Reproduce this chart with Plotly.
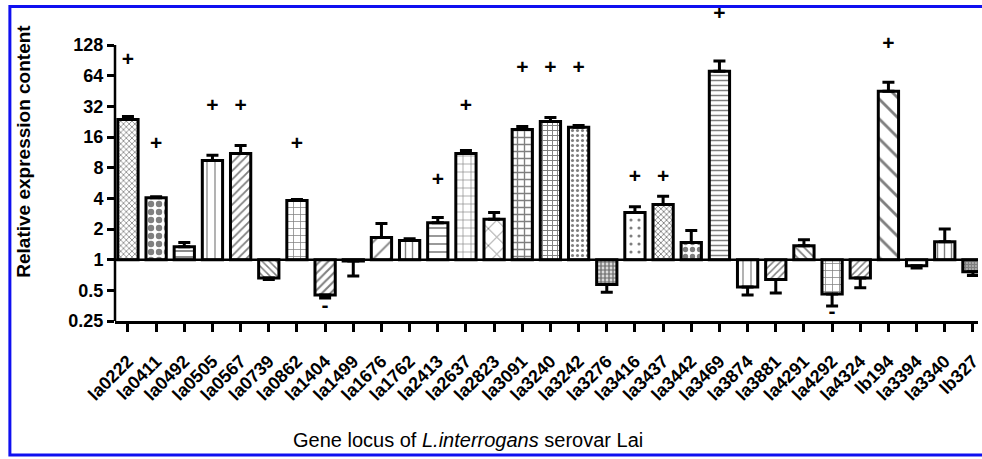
import plotly.graph_objects as go
import math

genes = ["la0222", "la0411", "la0492", "la0505", "la0567", "la0739", "la0862", "la1404",
         "la1499", "la1676", "la1762", "la2413", "la2637", "la2823", "la3091", "la3240",
         "la3242", "la3276", "la3416", "la3437", "la3442", "la3469", "la3874", "la3881",
         "la4291", "la4292", "la4324", "lb194", "la3394", "la3340", "lb327"]
expression = [23.8, 4.05, 1.34, 9.4, 11.0, 0.66, 3.8, 0.45,
              0.97, 1.65, 1.54, 2.3, 11.0, 2.5, 19.0, 22.7,
              19.9, 0.57, 2.9, 3.47, 1.47, 70.6, 0.54, 0.64,
              1.37, 0.46, 0.66, 45.0, 0.87, 1.5, 0.76]
error_end = [25.5, 4.15, 1.47, 10.6, 13.2, 0.64, 3.9, 0.42,
             0.69, 2.26, 1.6, 2.6, 11.8, 2.9, 20.3, 24.9,
             20.8, 0.48, 3.3, 4.2, 1.93, 88.9, 0.45, 0.47,
             1.57, 0.35, 0.53, 55.0, 0.83, 2.0, 0.70]
sig_genes = ["la0222", "la0411", "la0505", "la0567", "la0862", "la2413", "la2637", "la3091",
             "la3240", "la3242", "la3416", "la3437", "la3469", "lb194", "la1404", "la4292"]
sig_marks = ["+", "+", "+", "+", "+", "+", "+", "+", "+", "+", "+", "+", "+", "+", "-", "-"]
sig_level = [89, 13.5, 32, 32, 13.5, 5.9, 32, 74, 74, 74, 6.3, 6.3, 256, 128, 0.345, 0.30]
y_ticks = [0.25, 0.5, 1, 2, 4, 8, 16, 32, 64, 128]
y_tick_text = ["0.25", "0.5", "1", "2", "4", "8", "16", "32", "64", "128"]
y_min, y_axis_top = 0.25, 128

# styling (pattern per bar)
shapes_ = ["x", ".", "-", "|", "/", "\\", "+", "/", "", "/", "|", "-", "+", "x", "+", "+",
           ".", ".", ".", "x", ".", "-", "|", "/", "\\", "+", "/", "\\", "", "|", "."]
psize = [4, 8, 6, 8, 6, 5, 7, 6, 8, 12, 7, 8, 8, 12, 7, 5,
         5, 4, 8, 4, 7, 5, 8, 5, 6, 7, 5, 14, 8, 7, 3]
psolid = [0.35, 0.5, 0.3, 0.15, 0.3, 0.3, 0.2, 0.35, 0.3, 0.15, 0.2, 0.2, 0.15, 0.15, 0.35, 0.35,
          0.3, 0.7, 0.12, 0.4, 0.45, 0.3, 0.15, 0.3, 0.3, 0.2, 0.3, 0.2, 0.3, 0.2, 0.8]

font_family = "Liberation Sans, Arial, sans-serif"

fig = go.Figure()

fig.add_trace(go.Bar(
    x=genes,
    y=[v - 1 for v in expression],
    base=[1] * len(genes),
    width=0.72,
    marker=dict(
        color="white",
        line=dict(color="black", width=3),
        pattern=dict(shape=shapes_, size=psize, solidity=psolid,
                     fgcolor="black", bgcolor="white", fillmode="overlay"),
    ),
    showlegend=False,
    hoverinfo="skip",
))

up = [max(e - v, 0) for v, e in zip(expression, error_end)]
down = [max(v - e, 0) for v, e in zip(expression, error_end)]
fig.add_trace(go.Scatter(
    x=genes, y=expression, mode="markers",
    marker=dict(size=1, color="rgba(0,0,0,0)"),
    error_y=dict(type="data", symmetric=False, array=up, arrayminus=down,
                 color="black", thickness=3, width=6),
    showlegend=False, hoverinfo="skip",
))

# baseline at 1
fig.add_trace(go.Scatter(
    x=[-0.5, 31], y=[1, 1], mode="lines", xaxis="x2",
    line=dict(color="black", width=2.5), showlegend=False, hoverinfo="skip",
))

fig.add_trace(go.Scatter(
    x=sig_genes, y=sig_level, mode="text", text=sig_marks,
    textfont=dict(family=font_family, size=21, color="black", weight="bold"),
    textposition="middle center", cliponaxis=False,
    showlegend=False, hoverinfo="skip",
))

px_per_doubling = 30.67
extra_top = 37  # px of room above 128 for the marks
y_top = math.log10(y_axis_top * 2 ** (extra_top / px_per_doubling))

fig.update_layout(
    width=982, height=459,
    margin=dict(l=115, r=0, t=8, b=138),
    paper_bgcolor="white", plot_bgcolor="white",
    font=dict(family=font_family, color="black"),
    xaxis=dict(
        type="category", range=[-0.46, 30.18],
        showline=True, linecolor="black", linewidth=2.5,
        ticks="outside", ticklen=8, tickwidth=2.5, tickcolor="black",
        tickangle=-45, tickfont=dict(size=18, weight="bold"),
        ticklabelstandoff=12,
        showgrid=False, zeroline=False,
    ),
    xaxis2=dict(range=[-0.46, 30.18], overlaying="x", visible=False),
    yaxis=dict(
        type="log", range=[math.log10(y_min), y_top],
        tickvals=y_ticks, ticktext=y_tick_text,
        showline=False,
        ticks="outside", ticklen=7, tickwidth=2.5, tickcolor="black",
        tickfont=dict(size=18, weight="bold"),
        showgrid=False, zeroline=False,
    ),
    annotations=[
        dict(text="Relative expression content", xref="paper", yref="paper",
             x=-0.107, y=0.543, xanchor="center", yanchor="middle",
             textangle=-90, showarrow=False,
             font=dict(size=19, weight="bold")),
        dict(text="Gene locus of <i>L.interrogans</i> serovar Lai", xref="paper", yref="paper",
             x=0.409, y=-0.380, xanchor="center", yanchor="middle",
             showarrow=False, font=dict(size=20)),
    ],
    shapes=[
        dict(type="line", xref="paper", yref="y", x0=0, x1=0, y0=y_min, y1=y_axis_top,
             line=dict(color="black", width=2.5)),
        dict(type="rect", xref="paper", yref="paper",
             x0=-0.1218, x1=1.02, y0=-0.4281, y1=1.0048,
             line=dict(color="#1010f0", width=3)),
    ],
)

fig.write_html("out.html", config={"displayModeBar": False},
               post_script="document.body.style.margin='0';document.body.style.overflow='hidden';")
